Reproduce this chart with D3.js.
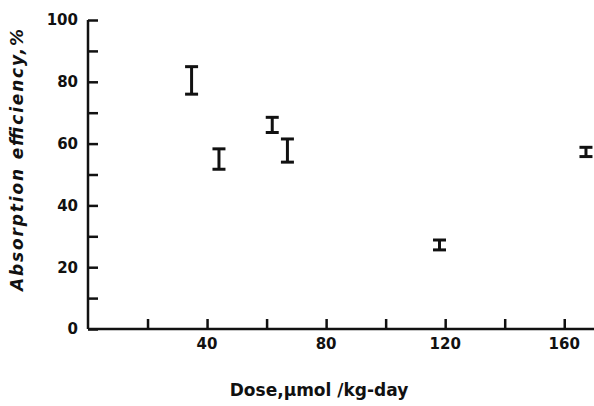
<!DOCTYPE html>
<html>
<head>
<meta charset="utf-8">
<script src="https://cdn.jsdelivr.net/npm/d3@7"></script>
<style>
body { margin: 0; background: #fff; }
svg text { font-family: "DejaVu Sans", sans-serif; font-weight: bold; fill: #111; }
</style>
</head>
<body>
<svg></svg>
<script>
// values
var dose = [34.8, 44, 61.9, 67, 118.1, 167.3];
var low  = [76, 51.7, 63.6, 54, 25.6, 55.8];
var high = [84.9, 58.3, 68.5, 61.5, 28.8, 58.8];
var xTicks = [20, 40, 60, 80, 100, 120, 140, 160];
var xLabels = [40, 80, 120, 160];
var yTicks = [0, 10, 20, 30, 40, 50, 60, 70, 80, 90, 100];
var yLabels = [0, 20, 40, 60, 80, 100];

var width = 594;
var height = 406;
var ink = "#111";

var svg = d3.select("svg")
	.attr("width", width)
	.attr("height", height);

var xScale = d3.scaleLinear()
	.domain([0, 170])
	.range([88, 594]);

var yScale = d3.scaleLinear()
	.domain([0, 100])
	.range([329, 20]);

// y axis
var yAxis = svg.append("g")
	.attr("transform", `translate(${xScale(0)}, 0)`)
	.call(d3.axisRight(yScale)
		.tickValues(yTicks)
		.tickSize(10)
		.tickFormat(""));
yAxis.select(".domain").attr("d", `M0,${yScale(100)}V${yScale(0)}`);
yAxis.selectAll("line, path").attr("stroke", ink).attr("stroke-width", 2.5);

yAxis.selectAll(".lbl")
	.data(yLabels)
	.enter()
	.append("text")
	.attr("x", -10)
	.attr("y", d => yScale(d))
	.attr("dy", "0.36em")
	.style("text-anchor", "end")
	.style("font-size", "15px")
	.text(d => d);

// x axis
var xAxis = svg.append("g")
	.attr("transform", `translate(0, ${yScale(0)})`)
	.call(d3.axisTop(xScale)
		.tickValues(xTicks)
		.tickSize(10)
		.tickFormat(""));
xAxis.select(".domain").attr("d", `M${xScale(0)},0H${width}`);
xAxis.selectAll("line, path").attr("stroke", ink).attr("stroke-width", 2.5);

xAxis.selectAll(".lbl")
	.data(xLabels)
	.enter()
	.append("text")
	.attr("x", d => xScale(d))
	.attr("y", 15)
	.attr("dy", "0.36em")
	.style("text-anchor", "middle")
	.style("font-size", "15px")
	.text(d => d);

// titles
svg.append("text")
	.attr("x", 319)
	.attr("y", 396)
	.style("text-anchor", "middle")
	.style("font-size", "17px")
	.text("Dose,\u03bcmol /kg-day");

svg.append("text")
	.attr("transform", "rotate(-90)")
	.attr("x", -160)
	.attr("y", 23)
	.attr("textLength", 262)
	.attr("lengthAdjust", "spacing")
	.style("text-anchor", "middle")
	.style("font-size", "17px")
	.style("font-style", "italic")
	.text("Absorption efficiency,%");

// error bars
var bars = svg.append("g")
	.selectAll("g")
	.data(dose.map((d, i) => ({ x: d, lo: low[i], hi: high[i] })))
	.enter()
	.append("g")
	.attr("stroke", ink)
	.attr("stroke-width", 3);

bars.append("line")
	.attr("x1", d => xScale(d.x))
	.attr("x2", d => xScale(d.x))
	.attr("y1", d => yScale(d.hi))
	.attr("y2", d => yScale(d.lo));

bars.append("line")
	.attr("x1", d => xScale(d.x) - 6.5)
	.attr("x2", d => xScale(d.x) + 6.5)
	.attr("y1", d => yScale(d.hi))
	.attr("y2", d => yScale(d.hi));

bars.append("line")
	.attr("x1", d => xScale(d.x) - 6.5)
	.attr("x2", d => xScale(d.x) + 6.5)
	.attr("y1", d => yScale(d.lo))
	.attr("y2", d => yScale(d.lo));
</script>
</body>
</html>
